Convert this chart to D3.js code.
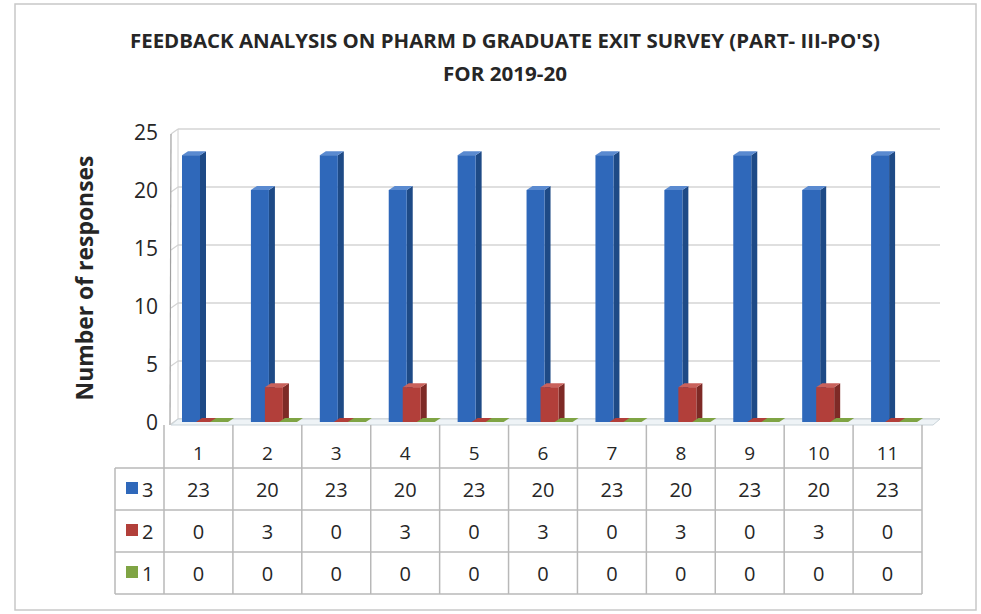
<!DOCTYPE html>
<html><head><meta charset="utf-8">
<script src="https://cdn.jsdelivr.net/npm/d3@7"></script>
<style>body{margin:0;background:#fff}</style>
</head><body><svg id="c" width="981" height="614"></svg>
<script>
const titleLines = ["FEEDBACK ANALYSIS ON PHARM D GRADUATE EXIT SURVEY (PART- III-PO'S)", "FOR 2019-20"];
const yAxisTitle = "Number of responses";
const categories = ["1","2","3","4","5","6","7","8","9","10","11"];
const seriesNames = ["3","2","1"];
const values3 = [23,20,23,20,23,20,23,20,23,20,23];
const values2 = [0,3,0,3,0,3,0,3,0,3,0];
const values1 = [0,0,0,0,0,0,0,0,0,0,0];
const yTicks = [0,5,10,15,20,25];
const seriesColors = ["#2F68BA","#B23F3A","#7FA444"];
const seriesSide = ["#1E4A86","#7E2A26","#5A7A2E"];
const seriesTop = ["#5A8AD0","#C9615B","#A3C46A"];

const allValues = [values3, values2, values1];
const svg = d3.select("#c");
const font = "'Open Sans', 'Liberation Sans', sans-serif";

// outer frame
svg.append("rect").attr("x",15).attr("y",4).attr("width",961).attr("height",606)
  .attr("fill","#fff").attr("stroke","#c8c8c8").attr("stroke-width",1.5);

// title
const titleW = [750, 124];
svg.selectAll("text.title").data(titleLines).join("text")
  .attr("class","title").attr("x",505).attr("y",(d,i)=>48+i*33)
  .attr("text-anchor","middle").attr("font-family",font)
  .attr("font-weight","bold").attr("font-size",20).attr("fill","#262626")
  .attr("textLength",(d,i)=>titleW[i]).attr("lengthAdjust","spacingAndGlyphs")
  .text(d=>d);

// scales
const x = d3.scaleBand().domain(categories).range([164, 922]);
const y = d3.scaleLinear().domain([0,25]).range([422,132]);
const inner = d3.scalePoint().domain(seriesNames).range([18, 46]);
const depth = 6, faceW = 18;
const wallL = 178, wallR = 940;

// wall gridlines
const g = svg.append("g");
g.selectAll("line.grid").data(yTicks).join("line")
  .attr("x1",wallL).attr("x2",wallR).attr("y1",d=>y(d)-3).attr("y2",d=>y(d)-3)
  .attr("stroke","#d4d4d4").attr("stroke-width",1.5);
g.selectAll("line.gd").data(yTicks).join("line")
  .attr("x1",wallL-7).attr("x2",wallL).attr("y1",d=>y(d)+2).attr("y2",d=>y(d)-3)
  .attr("stroke","#d4d4d4").attr("stroke-width",1.2);
g.append("line").attr("x1",wallL).attr("x2",wallL).attr("y1",y(25)-3).attr("y2",y(0)-3)
  .attr("stroke","#d0d0d0").attr("stroke-width",1);
g.append("line").attr("x1",wallL-7).attr("x2",wallL-8).attr("y1",y(25)+2).attr("y2",y(0)+3)
  .attr("stroke","#a0a0a0").attr("stroke-width",1.2);
g.append("path").attr("d",`M${wallL-7},${y(0)+3}L${wallL},${y(0)-3}L${wallR},${y(0)-3}L${wallR-7},${y(0)+3}Z`)
  .attr("fill","#eef3f6").attr("stroke","#c9d3d9").attr("stroke-width",1);

// y tick labels
svg.selectAll("text.yt").data(yTicks).join("text")
  .attr("x",158).attr("y",d=>y(d)+8).attr("text-anchor","end")
  .attr("font-family",font).attr("font-size",21).attr("fill","#262626").text(d=>d);

// y axis title
svg.append("text").attr("transform","translate(93,278) rotate(-90)")
  .attr("text-anchor","middle").attr("font-family",font).attr("font-weight","bold")
  .attr("font-size",23).attr("fill","#262626")
  .attr("textLength",245).attr("lengthAdjust","spacingAndGlyphs").text(yAxisTitle);

// bars: blue first, then red and green overlapping to the right
const barsG = svg.append("g");
[0,1,2].forEach(si=>{
  const vals = allValues[si];
  const gs = barsG.append("g");
  categories.forEach((c,ci)=>{
    const v = vals[ci];
    const x0 = x(c) + inner(seriesNames[si]);
    const yt = y(v), yb = y(0);
    gs.append("path").attr("d",`M${x0+faceW},${yb}L${x0+faceW+depth},${yb-4}L${x0+faceW+depth},${yt-4}L${x0+faceW},${yt}Z`)
      .attr("fill",seriesSide[si]);
    gs.append("path").attr("d",`M${x0},${yt}L${x0+depth},${yt-4}L${x0+faceW+depth},${yt-4}L${x0+faceW},${yt}Z`)
      .attr("fill", v===0 ? seriesColors[si] : seriesTop[si]);
    if (v>0) gs.append("rect").attr("x",x0).attr("y",yt).attr("width",faceW).attr("height",yb-yt)
      .attr("fill",seriesColors[si]);
  });
});

// data table
const rowTop = 425, hdrH = 43, rowH = 42;
const tbl = svg.append("g").attr("font-family",font).attr("fill","#262626");
const tableLeft = 115, colRight = x.range()[1];
const lineC = "#b8b8b8";
const bounds = categories.map(c=>x(c)).concat([colRight]);
tbl.selectAll("line.v").data(bounds).join("line")
  .attr("x1",d=>d).attr("x2",d=>d).attr("y1",rowTop).attr("y2",rowTop+hdrH+3*rowH)
  .attr("stroke",lineC).attr("stroke-width",1.5);
const hy = [rowTop+hdrH, rowTop+hdrH+rowH, rowTop+hdrH+2*rowH, rowTop+hdrH+3*rowH];
tbl.selectAll("line.h").data(hy).join("line")
  .attr("x1",tableLeft).attr("x2",colRight).attr("y1",d=>d).attr("y2",d=>d)
  .attr("stroke",lineC).attr("stroke-width",1.5);
tbl.append("line").attr("x1",tableLeft).attr("x2",tableLeft).attr("y1",rowTop+hdrH).attr("y2",rowTop+hdrH+3*rowH)
  .attr("stroke",lineC).attr("stroke-width",1.5);
tbl.selectAll("text.hd").data(categories).join("text")
  .attr("x",c=>x(c)+x.bandwidth()/2).attr("y",rowTop+hdrH-8).attr("text-anchor","middle")
  .attr("font-size",19).attr("fill","#262626").text(c=>c);
allValues.forEach((vals,si)=>{
  const ry = rowTop+hdrH+si*rowH;
  tbl.append("rect").attr("x",126).attr("y",ry+rowH/2-7).attr("width",12).attr("height",12)
    .attr("fill",seriesColors[si]);
  tbl.append("text").attr("x",142).attr("y",ry+rowH/2+8).attr("font-size",20)
    .attr("fill","#262626").text(seriesNames[si]);
  tbl.selectAll("text.r"+si).data(vals).join("text")
    .attr("x",(d,i)=>x(categories[i])+x.bandwidth()/2).attr("y",ry+rowH/2+8)
    .attr("text-anchor","middle").attr("font-size",20).attr("fill","#262626").text(d=>d);
});
</script></body></html>
